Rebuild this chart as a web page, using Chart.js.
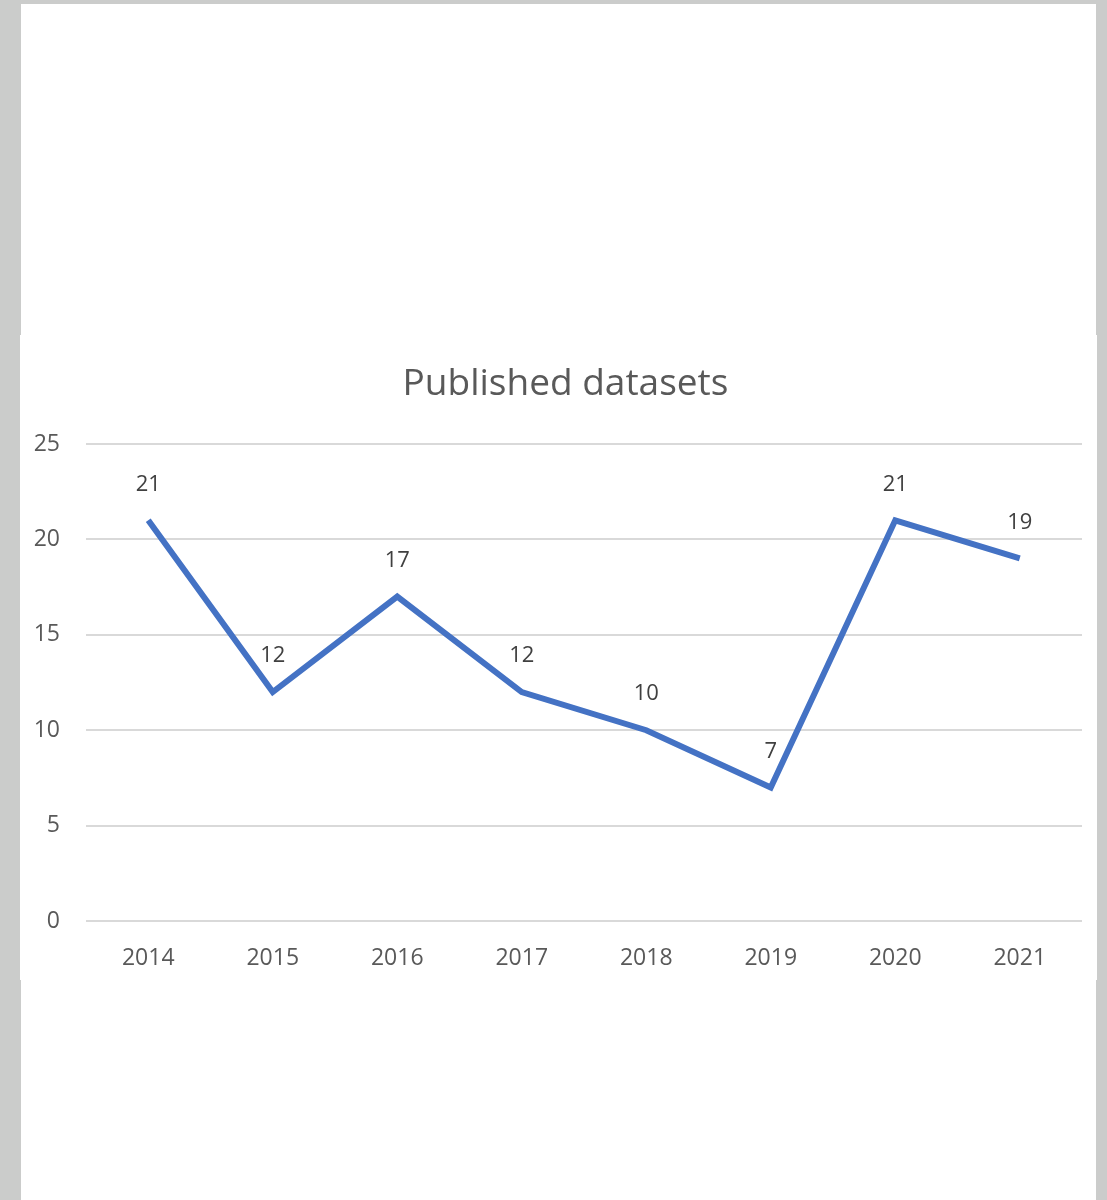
<!DOCTYPE html>
<html>
<head>
<meta charset="utf-8">
<script src="https://cdn.jsdelivr.net/npm/chart.js@4/dist/chart.umd.min.js"></script>
<style>
  body { margin: 0; background: #cbcccb; width: 1107px; height: 1200px; position: relative; overflow: hidden; }
  .page { position: absolute; left: 21px; top: 4px; width: 1075px; height: 1196px; background: #fff; }
  .panel { position: absolute; left: 20px; top: 335px; width: 1077px; height: 645px; background: #fff; }
</style>
</head>
<body>
<div class="page"></div>
<div class="panel"><canvas id="datasetsChart"></canvas></div>
<script>
// Chart data
const years = ['2014', '2015', '2016', '2017', '2018', '2019', '2020', '2021'];
const publishedCounts = [21, 12, 17, 12, 10, 7, 21, 19];
const yMin = 0;
const yMax = 25;
const yStep = 5;
const chartTitle = 'Published datasets';

// draws the value above each point
const pointLabels = {
    id: 'pointLabels',
    afterDatasetsDraw(chart) {
        const ctx = chart.ctx;
        const meta = chart.getDatasetMeta(0);
        ctx.save();
        ctx.font = '22px "Open Sans"';
        ctx.fillStyle = '#404040';
        ctx.textAlign = 'center';
        ctx.textBaseline = 'middle';
        meta.data.forEach((pt, i) => {
            ctx.fillText(publishedCounts[i], pt.x, pt.y - 36);
        });
        ctx.restore();
    }
};

// title a little right of the canvas centre, like the original
const offsetTitle = {
    id: 'offsetTitle',
    afterDraw(chart) {
        const ctx = chart.ctx;
        ctx.save();
        ctx.font = '37px "Open Sans"';
        ctx.fillStyle = '#595959';
        ctx.textAlign = 'center';
        ctx.textBaseline = 'middle';
        ctx.fillText(chartTitle, chart.width / 2 + 7, 49);
        ctx.restore();
    }
};

new Chart(document.getElementById('datasetsChart'), {
    type: 'line',
    data: {
        labels: years,
        datasets: [{
            label: chartTitle,
            data: publishedCounts,
            borderColor: '#4472c4',
            borderWidth: 6,
            pointRadius: 0,
            tension: 0,
            fill: false
        }]
    },
    options: {
        responsive: true,
        maintainAspectRatio: false,
        animation: false,
        layout: { padding: { top: 109, right: 15, left: 14, bottom: 0 } },
        scales: {
            x: {
                offset: true,
                grid: { display: false },
                border: { display: false },
                ticks: { color: '#595959', font: { family: 'Open Sans', size: 23 }, padding: 16, maxRotation: 0 },
                afterFit(scale) { scale.height = 59; }
            },
            y: {
                min: yMin,
                max: yMax,
                grid: { color: '#d9d9d9', lineWidth: 2, drawTicks: false },
                border: { display: false },
                ticks: { stepSize: yStep, color: '#595959', font: { family: 'Open Sans', size: 23 }, padding: 26 },
                afterFit(scale) { scale.width = 52; }
            }
        },
        plugins: {
            legend: { display: false },
            tooltip: { enabled: false },
            title: { display: false }
        }
    },
    plugins: [pointLabels, offsetTitle]
});
</script>
</body>
</html>
